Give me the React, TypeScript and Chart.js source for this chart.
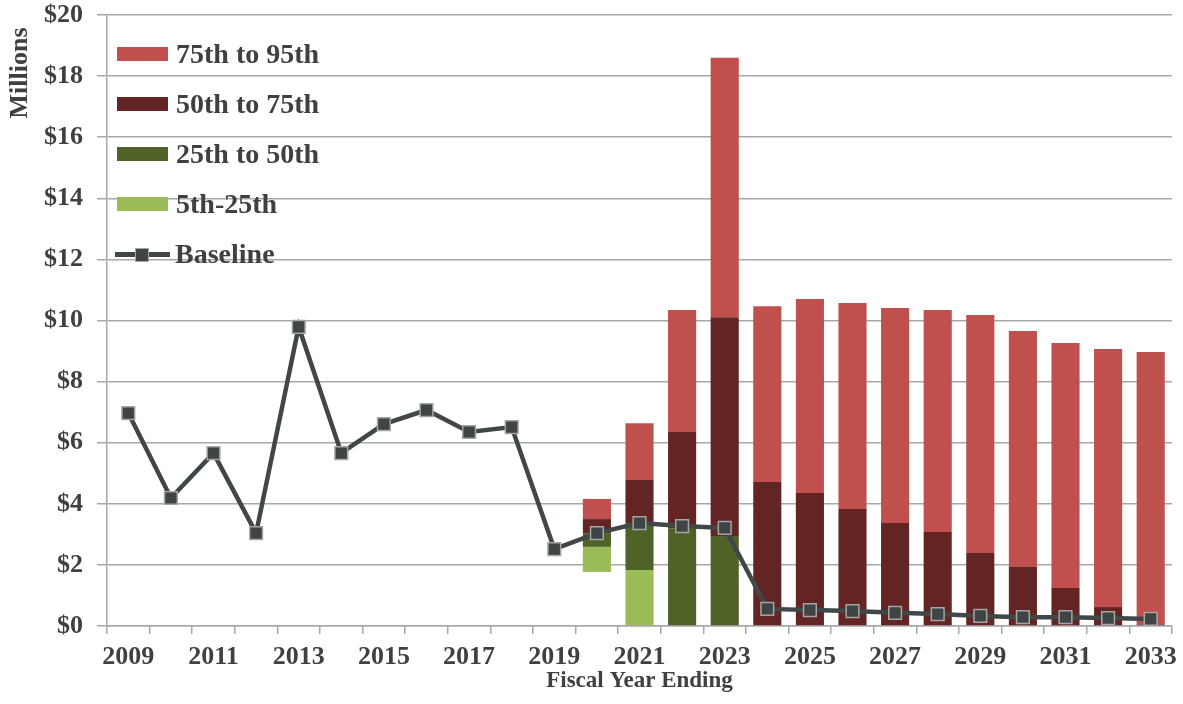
import React, { useEffect, useRef } from "react";
import { Chart, registerables } from "chart.js";

Chart.register(...registerables);

const years = [
  "2009", "2010", "2011", "2012", "2013", "2014", "2015", "2016", "2017",
  "2018", "2019", "2020", "2021", "2022", "2023", "2024", "2025", "2026",
  "2027", "2028", "2029", "2030", "2031", "2032", "2033",
];

const baseline = [
  6.97, 4.19, 5.66, 3.04, 9.79, 5.66, 6.61, 7.07, 6.35, 6.51, 2.52, 3.04, 3.37,
  3.27, 3.21, 0.56, 0.52, 0.49, 0.43, 0.39, 0.33, 0.29, 0.29, 0.26, 0.23,
];

// projection years 2020..2033
const projStartIndex = 11;
const p5 = [1.77, 0, 0, 0, 0, 0, 0, 0, 0, 0, 0, 0, 0, 0];
const p25 = [2.59, 1.83, 0, 0, 0, 0, 0, 0, 0, 0, 0, 0, 0, 0];
const p50 = [3.04, 3.37, 3.2, 2.95, 0, 0, 0, 0, 0, 0, 0, 0, 0, 0];
const p75 = [3.5, 4.78, 6.35, 10.11, 4.71, 4.35, 3.83, 3.37, 3.08, 2.39, 1.93, 1.24, 0.62, 0.05];
const p95 = [4.16, 6.64, 10.34, 18.6, 10.47, 10.7, 10.57, 10.41, 10.34, 10.18, 9.66, 9.26, 9.07, 8.97];

const yTicks = [0, 2, 4, 6, 8, 10, 12, 14, 16, 18, 20];
const yTitle = "Millions";

const FONT = "'Liberation Serif', 'Times New Roman', serif";
const TEXT = "#404040";
const GRID = "#A8A8A8";
const C_RED = "#C0504D";
const C_DRED = "#632523";
const C_DGREEN = "#4F6228";
const C_LGREEN = "#9BBB59";
const C_LINE = "#3F4747";

function band(lo: number[], hi: number[]) {
  const out: ([number, number] | null)[] = years.map(() => null);
  lo.forEach((l, i) => {
    const h = hi[i];
    out[projStartIndex + i] = h > l ? [l, h] : null;
  });
  return out;
}

const legendItems = [
  { label: "75th to 95th", color: C_RED },
  { label: "50th to 75th", color: C_DRED },
  { label: "25th to 50th", color: C_DGREEN },
  { label: "5th-25th", color: C_LGREEN },
];

const yTitlePlugin = {
  id: "yTitlePlugin",
  afterDraw(chart: any) {
    const ctx = chart.ctx;
    ctx.save();
    ctx.translate(20, 73);
    ctx.rotate(-Math.PI / 2);
    ctx.font = `bold 26px ${FONT}`;
    ctx.fillStyle = TEXT;
    ctx.textAlign = "center";
    ctx.textBaseline = "middle";
    ctx.fillText(yTitle, 0, 0);
    ctx.restore();
  },
};

export default function App() {
  const ref = useRef<HTMLCanvasElement | null>(null);

  useEffect(() => {
    if (!ref.current) return;
    const barCommon = {
      type: "bar" as const,
      grouped: false,
      barPercentage: 0.66,
      categoryPercentage: 1,
      borderWidth: 0,
      order: 1,
    };
    const chart = new Chart(ref.current, {
      type: "bar",
      data: {
        labels: years,
        datasets: [
          {
            type: "line",
            label: "Baseline",
            data: baseline,
            borderColor: C_LINE,
            borderWidth: 4.5,
            pointStyle: "rect",
            pointRadius: 9,
            pointBackgroundColor: "#3F4545",
            pointBorderColor: "#A5A5A5",
            pointBorderWidth: 1.5,
            tension: 0,
            order: 0,
          },
          { ...barCommon, label: "5th-25th", data: band(p5, p25) as any, backgroundColor: C_LGREEN },
          { ...barCommon, label: "25th to 50th", data: band(p25, p50) as any, backgroundColor: C_DGREEN },
          { ...barCommon, label: "50th to 75th", data: band(p50, p75) as any, backgroundColor: C_DRED },
          { ...barCommon, label: "75th to 95th", data: band(p75, p95) as any, backgroundColor: C_RED },
        ] as any,
      },
      plugins: [yTitlePlugin],
      options: {
        responsive: false,
        animation: false,
        devicePixelRatio: 1,
        layout: { padding: { top: 15, right: 11, left: 0, bottom: 0 } },
        plugins: {
          legend: { display: false },
          tooltip: { enabled: false },
        },
        scales: {
          x: {
            stacked: false,
            offset: true,
            grid: {
              offset: true,
              drawOnChartArea: false,
              drawTicks: true,
              tickLength: 8,
              color: GRID,
              lineWidth: 1.5,
            },
            border: { color: GRID, width: 1.5 },
            ticks: {
              autoSkip: false,
              maxRotation: 0,
              minRotation: 0,
              padding: 8,
              color: TEXT,
              font: { family: FONT, size: 26, weight: "bold" },
              callback: (_v: any, i: number) => (i % 2 === 0 ? years[i] : ""),
            },
            title: {
              display: true,
              text: "Fiscal Year Ending",
              color: TEXT,
              font: { family: FONT, size: 23, weight: "bold" },
              padding: { top: 0, bottom: 9 },
            },
            afterFit: (s: any) => {
              s.height = 78;
              s.paddingLeft = 0;
              s.paddingRight = 0;
            },
          },
          y: {
            stacked: false,
            min: 0,
            max: 20,
            afterBuildTicks: (s: any) => {
              s.ticks = yTicks.map((v) => ({ value: v }));
            },
            grid: {
              color: GRID,
              lineWidth: 1.5,
              tickLength: 10,
            },
            border: { color: GRID, width: 1.5 },
            ticks: {
              padding: 14,
              color: TEXT,
              font: { family: FONT, size: 26, weight: "bold" },
              callback: (v: any) => "$" + v,
            },
            title: { display: false },
            afterFit: (s: any) => {
              s.width = 107;
              s.paddingTop = 0;
              s.paddingBottom = 0;
            },
          },
        },
      } as any,
    });
    return () => chart.destroy();
  }, []);

  const textStyle = { fontFamily: FONT, fontWeight: "bold" as const, fontSize: 28, color: TEXT };

  return (
    <div style={{ position: "fixed", left: 0, top: 0, width: 1183, height: 704, background: "#fff" }}>
      <canvas ref={ref} width={1183} height={704} style={{ display: "block" }} />
      <div style={{ position: "absolute", left: 115, top: 0 }}>
        {legendItems.map((it, i) => (
          <div
            key={it.label}
            style={{
              position: "absolute",
              left: 0,
              top: 54 + i * 50 - 18,
              height: 36,
              display: "flex",
              alignItems: "center",
              whiteSpace: "nowrap",
            }}
          >
            <div style={{ width: 51, height: 14, background: it.color, marginLeft: 2, marginRight: 8 }} />
            <span style={textStyle}>{it.label}</span>
          </div>
        ))}
        <div
          style={{
            position: "absolute",
            left: 0,
            top: 254 - 18,
            height: 36,
            display: "flex",
            alignItems: "center",
            whiteSpace: "nowrap",
          }}
        >
          <div style={{ position: "relative", width: 55, height: 14, marginRight: 5 }}>
            <div style={{ position: "absolute", left: 0, top: 5, width: 55, height: 5, background: C_LINE }} />
            <div style={{ position: "absolute", left: 20, top: 1, width: 12, height: 12, background: "#3F4545", border: "1px solid #A5A5A5" }} />
          </div>
          <span style={textStyle}>Baseline</span>
        </div>
      </div>
    </div>
  );
}
